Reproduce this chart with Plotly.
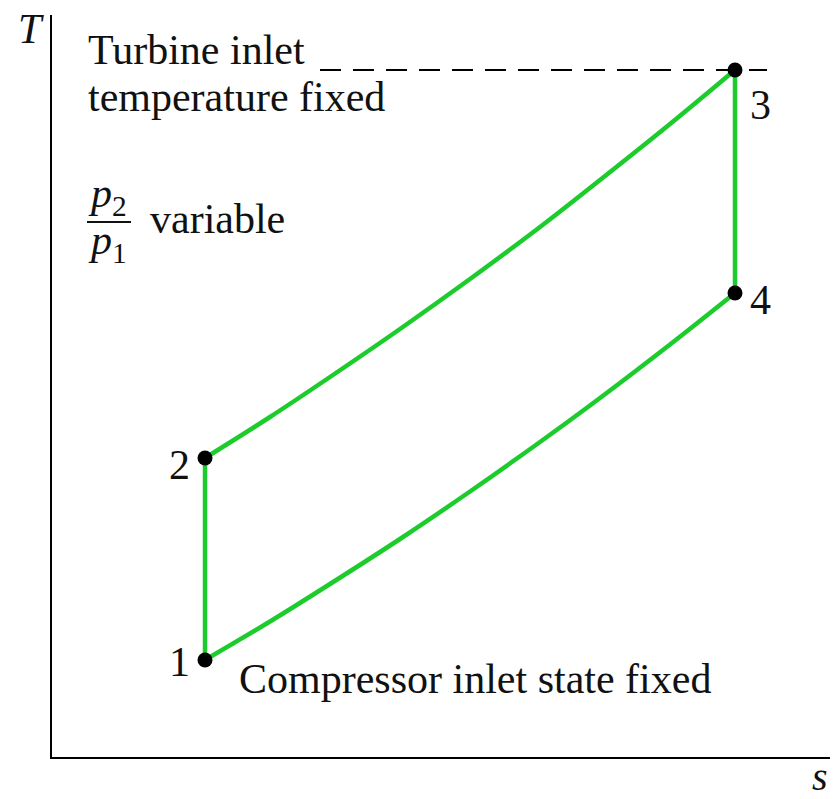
import plotly.graph_objects as go

# ---- data (entropy s, temperature T in arbitrary diagram units) ----
state_labels = ["1", "2", "3", "4"]
state_s = [153, 153, 683, 683]
state_T = [97, 299, 687, 464]

# constant-pressure line 2 -> 3 (high pressure)
hp_s = [153, 218, 278, 348, 418, 488, 548, 618, 683]
hp_T = [299, 340, 380, 428, 478, 530, 577, 633, 687]

# constant-pressure line 1 -> 4 (low pressure)
lp_s = [153, 218, 278, 348, 418, 488, 548, 618, 683]
lp_T = [97, 135.5, 173, 218, 265.5, 315, 359, 412.5, 464]

# turbine inlet temperature reference line
tit_s = [268, 715]
tit_T = [687, 687]

GREEN = "#1ccc2c"
FONT = "Liberation Serif"
FS = 42

fig = go.Figure()
fig.add_trace(go.Scatter(x=tit_s, y=tit_T, mode="lines",
                         line=dict(color="black", width=2, dash="21px,12px"),
                         hoverinfo="skip"))
# vertical processes 1-2 and 3-4
fig.add_trace(go.Scatter(x=[state_s[0], state_s[1]], y=[state_T[0], state_T[1]],
                         mode="lines", line=dict(color=GREEN, width=4.5), hoverinfo="skip"))
fig.add_trace(go.Scatter(x=[state_s[2], state_s[3]], y=[state_T[2], state_T[3]],
                         mode="lines", line=dict(color=GREEN, width=4.5), hoverinfo="skip"))
# curved constant-pressure processes
fig.add_trace(go.Scatter(x=hp_s, y=hp_T, mode="lines",
                         line=dict(color=GREEN, width=4.5, shape="spline", smoothing=1),
                         hoverinfo="skip"))
fig.add_trace(go.Scatter(x=lp_s, y=lp_T, mode="lines",
                         line=dict(color=GREEN, width=4.5, shape="spline", smoothing=1),
                         hoverinfo="skip"))
fig.add_trace(go.Scatter(x=state_s, y=state_T, mode="markers",
                         marker=dict(color="black", size=15)))

W, H = 840, 799
ML, MT, MR, MB = 52, 15, 10, 42
PW, PH = W - ML - MR, H - MT - MB

def PX(px):  # page pixel -> paper x
    return (px - ML) / PW

def PY(py):  # page pixel -> paper y
    return 1 - (py - MT) / PH

ann = []
def txt(text, x, y, xa="left", ya="middle", size=FS):
    ann.append(dict(text=text, x=PX(x), y=PY(y), xref="paper", yref="paper",
                    xanchor=xa, yanchor=ya, showarrow=False,
                    font=dict(family=FONT, size=size, color="#111")))

txt("Turbine inlet", 86, 50)
txt("temperature fixed", 86, 97)
txt("<i>p</i><sub>2</sub>", 86, 196)
txt("<i>p</i><sub>1</sub>", 86, 243)
txt("variable", 148, 219)
txt("Compressor inlet state fixed", 237, 679)
# state numbers
txt(state_labels[0], 192, 662, xa="right")
txt(state_labels[1], 192, 465, xa="right")
txt(state_labels[2], 748, 105)
txt(state_labels[3], 748, 300)
# axis titles
txt("<i>T</i>", 31, 29, xa="center")
txt("<i>s</i>", 820, 776, xa="center", size=40)

fig.update_layout(
    width=W, height=H,
    margin=dict(l=ML, r=MR, t=MT, b=MB),
    paper_bgcolor="white", plot_bgcolor="white",
    showlegend=False,
    annotations=ann,
    shapes=[dict(type="line", xref="paper", yref="paper",
                 x0=PX(87), x1=PX(131), y0=PY(222), y1=PY(222),
                 line=dict(color="#111", width=2))],
)
fig.update_xaxes(range=[0, 778], showline=True, linecolor="black", linewidth=2,
                 showgrid=False, zeroline=False, showticklabels=False, ticks="")
fig.update_yaxes(range=[0, 742], showline=True, linecolor="black", linewidth=2,
                 showgrid=False, zeroline=False, showticklabels=False, ticks="")

fig.write_html("out.html", config={"displayModeBar": False},
               post_script="document.body.style.margin='0';document.body.style.overflow='hidden';")
